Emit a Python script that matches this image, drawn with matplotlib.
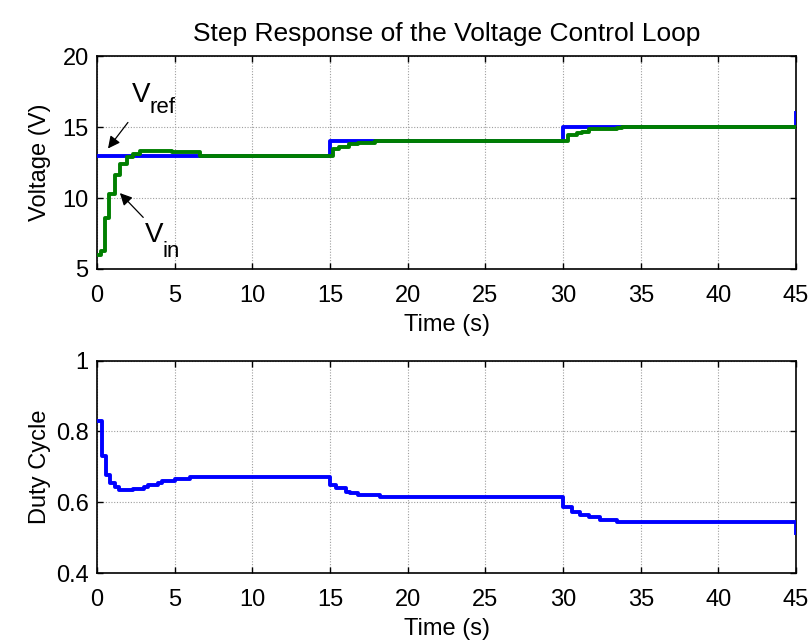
import matplotlib
matplotlib.use("Agg")
import matplotlib.pyplot as plt
from matplotlib.transforms import offset_copy

plt.rcParams['font.family'] = ['Liberation Sans', 'DejaVu Sans']

# ---- data ----
vref_t = [0, 15, 30, 45]
vref_v = [13, 14, 15, 16]

vin_t = [0, 0.25, 0.5, 0.75, 1.15, 1.5, 1.9, 2.3, 2.8, 4.8, 6.6, 15.2, 15.6, 16.2, 16.8, 17.9,
         30.3, 30.9, 31.2, 31.7, 33.5, 33.8, 45]
vin_v = [6.0, 6.25, 8.6, 10.3, 11.6, 12.4, 12.9, 13.1, 13.35, 13.25, 13.0, 13.5, 13.6, 13.8, 13.9, 14.0,
         14.45, 14.6, 14.7, 14.85, 14.92, 15.0, 15.0]

duty_t = [0, 0.3, 0.6, 0.85, 1.15, 1.4, 2.3, 3.0, 3.3, 3.9, 4.2, 5.0, 6.0, 15.0, 15.4, 16.0, 16.3,
          16.8, 18.2, 30.0, 30.6, 31.1, 31.7, 32.4, 33.5, 45]
duty_d = [0.83, 0.73, 0.677, 0.654, 0.643, 0.634, 0.637, 0.643, 0.648, 0.654, 0.66, 0.665, 0.672,
          0.649, 0.64, 0.63, 0.626, 0.62, 0.614, 0.586, 0.571, 0.565, 0.557, 0.55, 0.545, 0.514]

x_ticks = [0, 5, 10, 15, 20, 25, 30, 35, 40, 45]
v_ticks = [5, 10, 15, 20]
d_ticks = [0.4, 0.6, 0.8, 1.0]
d_ticklabels = ['0.4', '0.6', '0.8', '1']

FS = 17
fig = plt.figure(figsize=(8.11, 6.44), dpi=100)
ax1 = fig.add_axes([0.1196, 0.5823, 0.862, 0.3300])
ax2 = fig.add_axes([0.1196, 0.1102, 0.862, 0.3300])

def style(ax):
    ax.set_xlim(0, 45)
    ax.set_xticks(x_ticks)
    ax.grid(True, linestyle=(0, (1, 1.5)), color='0.62', linewidth=0.8)
    ax.tick_params(direction='in', top=True, right=True, length=4, width=1,
                   labelsize=FS)
    ax.tick_params(axis='x', pad=11.5)
    ax.tick_params(axis='y', pad=6)
    for s in ax.spines.values():
        s.set_linewidth(1.2)
    ax.set_xlabel('Time (s)', fontsize=FS, labelpad=5)
    ax.yaxis.set_label_coords(-0.066, 0.5)

ax1.plot(vref_t, vref_v, drawstyle='steps-post', color='#0000ff', lw=2.8, zorder=3)
ax1.plot(vin_t, vin_v, drawstyle='steps-post', color='#007f00', lw=2.8, zorder=4)
style(ax1)
ax1.set_ylim(5, 20)
ax1.set_yticks(v_ticks)
ax1.set_ylabel('Voltage (V)', fontsize=FS)
ax1.set_title('Step Response of the Voltage Control Loop', fontsize=19, pad=11.5)

ax1.annotate('', xy=(0.6, 13.35), xytext=(2.1, 15.5),
             arrowprops=dict(arrowstyle='-|>', color='black', lw=0.9, mutation_scale=18), zorder=6)
ax1.annotate('', xy=(1.35, 10.5), xytext=(3.1, 8.5),
             arrowprops=dict(arrowstyle='-|>', color='black', lw=0.9, mutation_scale=18), zorder=6)

ax1.text(2.25, 16.79, 'V', fontsize=20, ha='left', va='baseline', zorder=6)
ax1.text(2.25, 16.79, 'ref', fontsize=16, ha='left', va='baseline', zorder=6,
         transform=offset_copy(ax1.transData, fig=fig, x=18, y=-11, units='dots'))
ax1.text(3.09, 6.93, 'V', fontsize=20, ha='left', va='baseline', zorder=6)
ax1.text(3.09, 6.93, 'in', fontsize=16, ha='left', va='baseline', zorder=6,
         transform=offset_copy(ax1.transData, fig=fig, x=18, y=-15, units='dots'))

ax2.plot(duty_t, duty_d, drawstyle='steps-post', color='#0000ff', lw=2.8, zorder=3)
style(ax2)
ax2.set_ylim(0.4, 1.0)
ax2.set_yticks(d_ticks)
ax2.set_yticklabels(d_ticklabels)
ax2.set_ylabel('Duty Cycle', fontsize=FS)

fig.savefig('out.png', dpi=100)
